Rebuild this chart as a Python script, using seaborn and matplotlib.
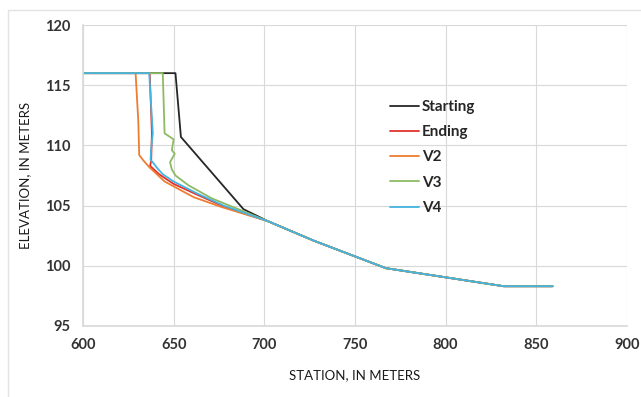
import numpy as np
import pandas as pd
import seaborn as sns
import matplotlib.pyplot as plt
from matplotlib.lines import Line2D

# station / elevation, one pair per profile
starting_x = [600, 651, 654, 688.5, 702, 727, 767, 832, 859]
starting_y = [116, 116, 110.7, 104.7, 103.7, 102.1, 99.8, 98.3, 98.3]

ending_x = [600, 636.8, 638, 637.6, 637, 642, 650, 663, 678, 702, 727, 767, 832, 859]
ending_y = [116, 116, 111, 108.7, 108.3, 107.6, 106.8, 105.9, 104.9, 103.7, 102.1, 99.8, 98.3, 98.3]

v2_x = [600, 629, 630.5, 631, 633, 636.5, 645, 661, 676, 702, 727, 767, 832, 859]
v2_y = [116, 116, 112, 109.2, 108.8, 108.2, 107.0, 105.7, 104.9, 103.7, 102.1, 99.8, 98.3, 98.3]

v3_x = [600, 644, 645, 650, 649, 650.6, 648, 649, 651, 658, 671, 702, 727, 767, 832, 859]
v3_y = [116, 116, 111.0, 110.5, 109.6, 109.3, 108.6, 108.0, 107.5, 106.7, 105.6, 103.7, 102.1, 99.8, 98.3, 98.3]

v4_x = [600, 636.5, 638.5, 637.5, 637.3, 639, 641, 644, 650, 663, 677.5, 702, 727, 767, 832, 859]
v4_y = [116, 116, 111, 109.6, 108.8, 108.5, 108.1, 107.6, 107.0, 106.0, 105.0, 103.7, 102.1, 99.8, 98.3, 98.3]

series = {'Starting': (starting_x, starting_y), 'Ending': (ending_x, ending_y),
          'V2': (v2_x, v2_y), 'V3': (v3_x, v3_y), 'V4': (v4_x, v4_y)}
colors = {'Starting': '#262626', 'Ending': '#e3312b', 'V2': '#ed7d31',
          'V3': '#8cbb64', 'V4': '#45b4e0'}

rows = []
for name, (xs, ys) in series.items():
    for i, (x, y) in enumerate(zip(xs, ys)):
        rows.append((name, i, x, y))
df = pd.DataFrame(rows, columns=['profile', 'order', 'station', 'elevation'])

sns.set_theme(style='whitegrid', rc={'grid.color': '#d9d9d9', 'grid.linewidth': 0.8,
                                     'axes.edgecolor': '#d9d9d9'})
plt.rcParams['font.family'] = ['Lato', 'DejaVu Sans']

fig = plt.figure(figsize=(6.41, 3.97), dpi=100)
ax = fig.add_axes([0.1295, 0.179, 0.8485, 0.758])

sns.lineplot(data=df, x='station', y='elevation', hue='profile', units='profile',
             estimator=None, sort=False, palette=colors, linewidth=1.3, ax=ax, legend=False)

ax.set_xlim(600, 900)
ax.set_ylim(95, 120)
ax.set_xticks(range(600, 901, 50))
ax.set_yticks(range(95, 121, 5))
ax.tick_params(axis='both', length=0, labelsize=10.5, colors='#333333', pad=9)
for lbl in ax.get_xticklabels() + ax.get_yticklabels():
    lbl.set_fontweight('bold')
ax.set_xlabel('STATION, IN METERS', fontsize=9.5, color='#1a1a1a', labelpad=12)
ax.set_ylabel('ELEVATION, IN METERS', fontsize=9.5, color='#1a1a1a', labelpad=10)
for s in ['top', 'right']:
    ax.spines[s].set_visible(False)

handles = [Line2D([0], [0], color=colors[n], lw=1.3) for n in series]
ax.legend(handles, list(series), loc='upper left', bbox_to_anchor=(0.54, 0.797),
          frameon=False, handlelength=1.9, handletextpad=0.15, labelspacing=0.74,
          prop={'weight': 'bold', 'size': 11})

# faint frame of the original chart area
fig.add_artist(Line2D([8 / 641, 8 / 641], [0, 1 - 10 / 397], color='#e3e3e3', lw=1))
fig.add_artist(Line2D([8 / 641, 1], [1 - 10 / 397, 1 - 10 / 397], color='#e3e3e3', lw=1))

fig.savefig('out.png', dpi=100)
